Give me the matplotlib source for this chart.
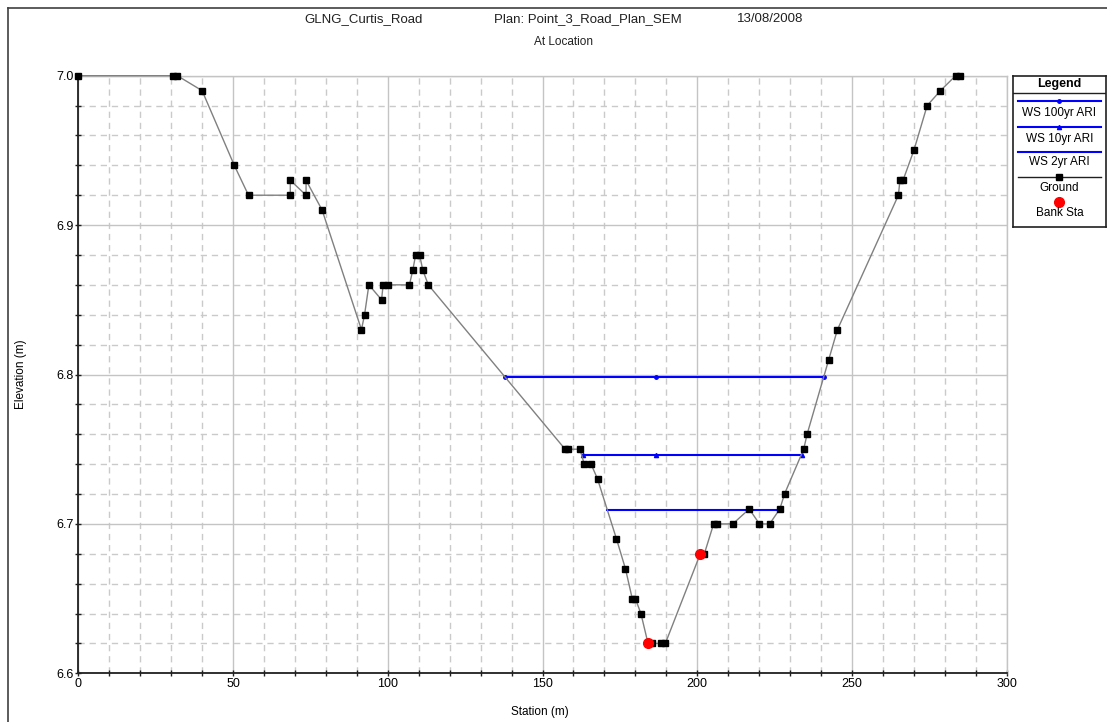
import matplotlib
matplotlib.use("Agg")
import matplotlib.pyplot as plt
from matplotlib.ticker import MultipleLocator, FixedLocator
from matplotlib.lines import Line2D
from matplotlib.font_manager import fontManager

names = {f.name for f in fontManager.ttflist}
fam = [n for n in ["Liberation Sans Narrow", "Liberation Sans", "DejaVu Sans"] if n in names]
plt.rcParams['font.family'] = fam

# ---------------- data ----------------
title_parts = ["GLNG_Curtis_Road", "Plan: Point_3_Road_Plan_SEM", "13/08/2008"]
title_sub = "At Location"

ground_sta = [0, 30.5, 32, 40, 50.4, 55, 68.5, 68.5, 73.6, 73.6, 78.8, 91.5, 92.5, 93.9,
              98.0, 98.5, 100, 107, 108.1, 109, 110.3, 111.3, 113.1, 157.3, 158.3, 162.1,
              163.5, 165.7, 167.8, 173.9, 176.8, 179, 180, 181.8, 184.1, 185.5, 188.3,
              189.7, 201.0, 202.3, 205.3, 206.5, 211.5, 216.8, 220.1, 223.4, 226.7, 228.2,
              234.4, 235.5, 242.5, 245.3, 265.0, 265.5, 266.5, 270, 274.3, 278.6, 283.5, 285]
ground_elev = [7.00, 7.00, 7.00, 6.99, 6.94, 6.92, 6.92, 6.93, 6.92, 6.93, 6.91, 6.83, 6.84, 6.86,
               6.85, 6.86, 6.86, 6.86, 6.87, 6.88, 6.88, 6.87, 6.86, 6.75, 6.75, 6.75,
               6.74, 6.74, 6.73, 6.69, 6.67, 6.65, 6.65, 6.64, 6.62, 6.62, 6.62,
               6.62, 6.68, 6.68, 6.70, 6.70, 6.70, 6.71, 6.70, 6.70, 6.71, 6.72,
               6.75, 6.76, 6.81, 6.83, 6.92, 6.93, 6.93, 6.95, 6.98, 6.99, 7.00, 7.00]

bank_sta = [184.1, 201.0]
bank_elev = [6.62, 6.68]

ws100_sta = [138.0, 186.7, 240.9]
ws100_elev = [6.798, 6.798, 6.798]
ws10_sta = [163.0, 186.7, 233.8]
ws10_elev = [6.746, 6.746, 6.746]
ws2_sta = [170.8, 226.7]
ws2_elev = [6.709, 6.709]

x_ticks = [0, 50, 100, 150, 200, 250, 300]
y_ticks = [6.6, 6.7, 6.8, 6.9, 7.0]
y_ticklabels = ["6.6", "6.7", "6.8", "6.9", "7.0"]

legend_labels = ["WS 100yr ARI", "WS 10yr ARI", "WS 2yr ARI", "Ground", "Bank Sta"]

# ---------------- figure ----------------
W, H = 1107, 722
fig = plt.figure(figsize=(W / 100, H / 100), dpi=100)
fig.patch.set_facecolor("white")

def fx(px):
    return px / W

def fy(py):
    return 1 - py / H

# outer page border (left and top)
fig.add_artist(Line2D([fx(8), fx(8)], [fy(8), fy(722)], color="#404040", lw=1.2, transform=fig.transFigure))
fig.add_artist(Line2D([fx(8), fx(1107)], [fy(8), fy(8)], color="#404040", lw=1.2, transform=fig.transFigure))

ax_l, ax_r, ax_t, ax_b = 78.3, 1006.7, 75.7, 673.3
ax = fig.add_axes([fx(ax_l), fy(ax_b), fx(ax_r) - fx(ax_l), fy(ax_t) - fy(ax_b)])
ax.set_xlim(0, 300)
ax.set_ylim(6.6, 7.0)

ax.xaxis.set_major_locator(FixedLocator(x_ticks))
ax.xaxis.set_minor_locator(MultipleLocator(10))
ax.yaxis.set_major_locator(FixedLocator(y_ticks))
ax.yaxis.set_minor_locator(MultipleLocator(0.02))
ax.set_yticklabels(y_ticklabels)

ax.grid(which="major", color="#c4c4c4", lw=1.0, ls="-")
ax.grid(which="minor", color="#cacaca", lw=1.0, ls=(0, (4.5, 3.5)))
ax.set_axisbelow(True)

for s in ["top", "right"]:
    ax.spines[s].set_color("#c4c4c4")
    ax.spines[s].set_linewidth(1.0)
for s in ["left", "bottom"]:
    ax.spines[s].set_color("#202020")
    ax.spines[s].set_linewidth(1.3)

ax.tick_params(which="both", direction="inout", color="#202020", labelsize=9, pad=1)
ax.tick_params(which="major", length=5, width=1)
ax.tick_params(which="minor", length=4, width=1)
ax.tick_params(axis="y", which="both", right=False)
ax.tick_params(axis="x", which="both", top=False)

ax.set_xlabel("Station (m)", fontsize=8.5)
ax.set_ylabel("Elevation (m)", fontsize=8.5)
ax.xaxis.set_label_coords((540 - ax_l) / (ax_r - ax_l), -(712 - ax_b) / (ax_b - ax_t))
ax.yaxis.set_label_coords(-(ax_l - 21) / (ax_r - ax_l), 0.5)
ax.xaxis.label.set_va("center")
ax.yaxis.label.set_va("center")

# water surfaces
ax.plot(ws100_sta, ws100_elev, color="#0000ff", lw=1.5, marker="o", ms=2.5, zorder=3)
ax.plot(ws10_sta, ws10_elev, color="#0000ff", lw=1.5, marker="^", ms=3, zorder=3)
ax.plot(ws2_sta, ws2_elev, color="#0000ff", lw=1.5, zorder=3)

# ground
ax.plot(ground_sta, ground_elev, color="#808080", lw=1.0, marker="s", ms=4.5,
        mfc="black", mec="black", zorder=4, clip_on=False)
ax.plot(bank_sta, bank_elev, ls="none", marker="o", ms=7, mfc="#ff0000", mec="#ff0000", zorder=5)

# titles
for txt, cxp in zip(title_parts, [364, 588, 770]):
    fig.text(fx(cxp), fy(22), txt, ha="center", va="baseline", fontsize=9.5, color="#202020")
fig.text(fx(564), fy(45), title_sub, ha="center", va="baseline", fontsize=8.5, color="#202020")

# ---------------- legend box ----------------
lx0, lx1, ly0, ly1 = 1013.3, 1105.5, 75.7, 226.7
lax = fig.add_axes([fx(lx0), fy(ly1), fx(lx1) - fx(lx0), fy(ly0) - fy(ly1)])
lax.set_xlim(lx0, lx1)
lax.set_ylim(ly1, ly0)
lax.set_xticks([])
lax.set_yticks([])
for s in lax.spines.values():
    s.set_color("#202020")
    s.set_linewidth(1.2)
cx = (lx0 + lx1) / 2
lax.text(cx, 83.5, "Legend", ha="center", va="center", fontsize=9, fontweight="bold")
lax.plot([lx0, lx1], [93.3, 93.3], color="#202020", lw=1.0)
l_x = [1018, 1100.5]
line_y = [100.7, 126.7, 151.5, 177.3]
text_y = [113.3, 139.0, 162.5, 188.0]
styles = [dict(color="#0000ff", lw=1.5), dict(color="#0000ff", lw=1.5),
          dict(color="#0000ff", lw=1.5), dict(color="#202020", lw=1.0)]
mk = [("o", 2.5, "#0000ff"), ("^", 3, "#0000ff"), (None, 0, None), ("s", 4.5, "black")]
for i in range(4):
    lax.plot(l_x, [line_y[i]] * 2, **styles[i])
    if mk[i][0]:
        lax.plot([cx], [line_y[i]], marker=mk[i][0], ms=mk[i][1], color=mk[i][2], ls="none")
    lax.text(cx, text_y[i], legend_labels[i], ha="center", va="center", fontsize=8.5)
lax.plot([cx], [201.7], marker="o", ms=7, color="#ff0000", ls="none")
lax.text(cx, 213.5, legend_labels[4], ha="center", va="center", fontsize=8.5)

fig.savefig("out.png", dpi=100)
